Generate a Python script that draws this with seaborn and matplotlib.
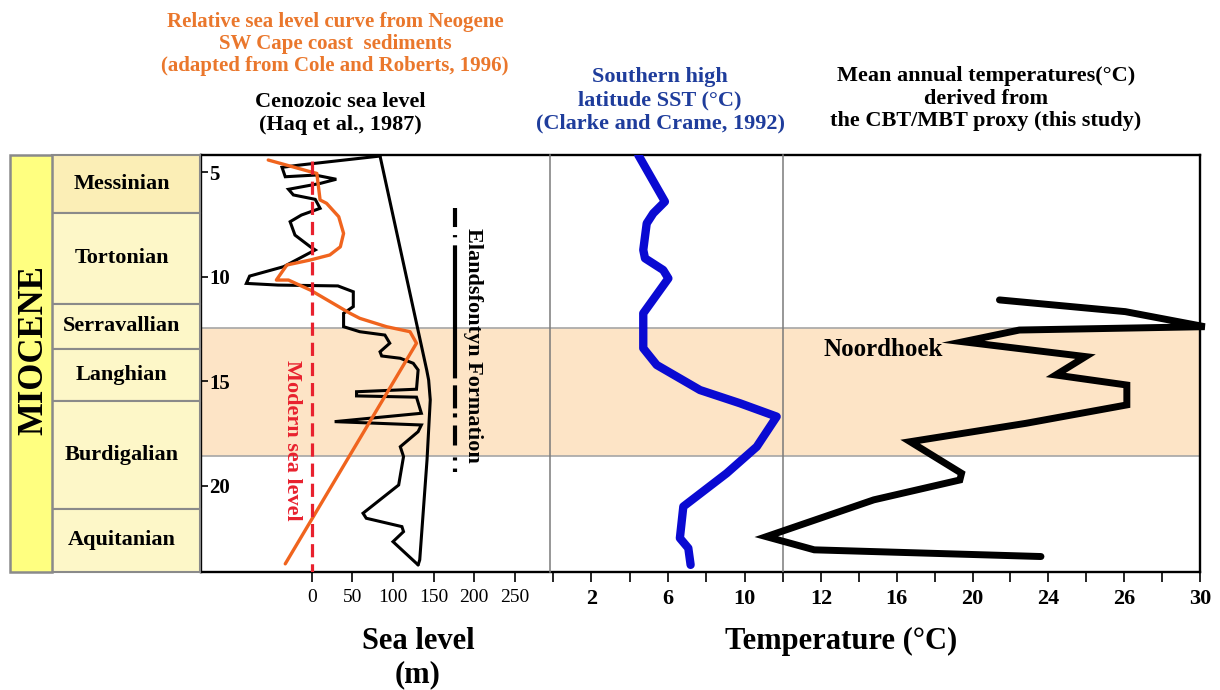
import matplotlib
matplotlib.use("Agg")
import matplotlib.pyplot as plt
import seaborn as sns

# ---------------- data ----------------
STAGES = ["Messinian", "Tortonian", "Serravallian", "Langhian", "Burdigalian", "Aquitanian"]
STAGE_TOP = [4.18, 6.95, 11.30, 13.46, 15.94, 21.10]
STAGE_BASE = [6.95, 11.30, 13.46, 15.94, 21.10, 24.12]
EPOCH = "MIOCENE"
AGE_TOP, AGE_BOTTOM = 4.18, 24.12
AGE_TICKS = [5, 10, 15, 20]
AGE_TICK_LABELS = ["5", "10", "15", "20"]
BAND = (12.44, 18.57)

# Haq et al. 1987 short-term curve (sea level m, age Ma)
HAQ_SL = [84, -15, -37, -33, 4, 30, 10, -29, -23, 4, 10, -13, -27, -21, -2, 4, -35, -77, -81, -42,
          32, 51, 51, 39, 39, 59, 90, 96, 84, 86, 109, 125, 131, 129, 55, 55, 129, 135, 28, 135,
          131, 109, 113, 107, 63, 67, 111, 113, 100, 131]
HAQ_AGE = [4.23, 4.66, 4.77, 5.22, 5.14, 5.34, 5.54, 5.82, 6.09, 6.30, 6.73, 7.05, 7.37, 8.01, 8.57,
           8.72, 9.52, 9.97, 10.32, 10.40, 10.44, 10.72, 11.43, 11.75, 12.39, 12.63, 12.79, 13.18,
           13.59, 13.79, 13.90, 14.14, 14.46, 15.38, 15.50, 15.70, 15.76, 16.53, 16.93, 17.09,
           17.41, 18.13, 18.60, 19.96, 21.31, 21.55, 21.95, 22.19, 22.67, 23.78]
# Haq long-term curve
HAQ_LT_SL = [84, 141.6, 144, 146, 142, 133, 131]
HAQ_LT_AGE = [4.23, 14.46, 14.94, 15.89, 18.76, 23.54, 23.78]

# Cole and Roberts 1996 relative sea level
CR_SL = [-54, -2, 6, 10, 18, 33, 39, 35, 22, -2, -31, -44, -29, -2, 47, 59, 92, 121, 129, -33]
CR_AGE = [4.42, 4.98, 5.06, 6.33, 6.49, 7.13, 7.93, 8.57, 8.96, 9.20, 9.44, 10.16, 10.16, 10.64,
          11.75, 11.99, 12.39, 12.63, 13.18, 23.73]

# Southern high latitude SST (Clarke and Crame 1992)
SST = [4.45, 5.84, 5.23, 4.89, 4.71, 4.80, 5.75, 6.02, 4.71, 4.71, 5.41, 7.67, 9.75, 11.67, 10.63,
       9.06, 6.80, 6.62, 7.06, 7.18]
SST_AGE = [4.18, 6.41, 6.97, 7.45, 8.72, 9.12, 9.68, 10.08, 11.75, 13.42, 14.22, 15.42, 16.05,
           16.69, 18.13, 19.40, 20.99, 22.50, 22.98, 23.78]

# Mean annual temperature, CBT/MBT (this study)
MAT = [21.42, 28.06, 32.25, 22.47, 19.50, 25.96, 24.39, 28.14, 28.14, 22.82, 16.71, 19.42, 19.33,
       14.79, 9.12, 11.65, 23.61]
MAT_AGE = [11.11, 11.67, 12.39, 12.55, 13.11, 13.82, 14.70, 15.18, 16.13, 17.01, 17.89, 19.40,
           19.72, 20.67, 22.43, 23.06, 23.38]

MODERN_SL = 0
ELAND_SL = 176.5
ELAND_AGE = [6.72, 19.34]

SL_TICKS = [0, 50, 100, 150, 200, 250]
SL_TICK_LABELS = ["0", "50", "100", "150", "200", "250"]
SST_TICKS = [0, 2, 4, 6, 8, 10]
SST_TICK_LABELS = ["", "2", "", "6", "", "10"]
MAT_TICKS = [10, 12, 14, 16, 18, 20, 22, 24, 26, 28, 30, 32]
MAT_TICK_LABELS = ["", "12", "", "16", "", "20", "", "24", "", "26", "", "30"]

# ---------------- style ----------------
sns.set_style("white")
plt.rcParams['font.family'] = ['Liberation Serif', 'DejaVu Serif']
plt.rcParams['font.weight'] = 'bold'
plt.rcParams['lines.scale_dashes'] = False
for key in ('text.color', 'axes.labelcolor', 'xtick.color', 'ytick.color', 'axes.edgecolor'):
    plt.rcParams[key] = 'black'

W, H = 1220, 690
fig = plt.figure(figsize=(12.2, 6.9), dpi=100)
fig.patch.set_facecolor('white')


def rect(x0, x1, y0=155, y1=572):
    return [x0 / W, 1 - y1 / H, (x1 - x0) / W, (y1 - y0) / H]


def fx(px):
    return px / W


def fy(py):
    return 1 - py / H


BAND_C = "#fde4c6"
ORANGE = "#f0641e"
RED = "#e8212e"
BLUE = "#0a0ad2"
TITLE_BLUE = "#1f3d9c"
TITLE_ORANGE = "#ea772c"

# background / frame axes
ax_bg = fig.add_axes(rect(201, 1200))
ax_bg.set_xlim(0, 1)
ax_bg.set_ylim(AGE_BOTTOM, AGE_TOP)
ax_bg.set_facecolor('white')
ax_bg.axhspan(BAND[0], BAND[1], color=BAND_C, zorder=0, lw=0)
for b in BAND:
    ax_bg.axhline(b, color="#a6a6a6", lw=1.2, zorder=1)
for s in ax_bg.spines.values():
    s.set_visible(True)
    s.set_color('black')
    s.set_linewidth(1.7)
ax_bg.set_xticks([])
ax_bg.set_yticks(AGE_TICKS)
ax_bg.set_yticklabels(AGE_TICK_LABELS, fontsize=15, fontweight='bold')
ax_bg.tick_params(axis='y', direction='in', length=5, width=1.2, pad=-6, left=True,
                  colors='black')
for lab in ax_bg.get_yticklabels():
    lab.set_horizontalalignment('left')


def overlay(x0, x1, xlim):
    a = fig.add_axes(rect(x0, x1))
    a.set_facecolor('none')
    a.set_xlim(*xlim)
    a.set_ylim(AGE_BOTTOM, AGE_TOP)
    for s in a.spines.values():
        s.set_visible(False)
    a.set_yticks([])
    a.tick_params(axis='x', direction='out', length=7, width=1.2, pad=5, bottom=True,
                  colors='black')
    return a


# sea-level panel
ax_sl = overlay(201, 550, (-137, 293.8))
sns.lineplot(x=HAQ_SL, y=HAQ_AGE, sort=False, estimator=None, ax=ax_sl, color='black',
             lw=2.2, legend=False, solid_joinstyle='miter')
sns.lineplot(x=HAQ_LT_SL, y=HAQ_LT_AGE, sort=False, estimator=None, ax=ax_sl, color='black',
             lw=2.2, legend=False)
sns.lineplot(x=CR_SL, y=CR_AGE, sort=False, estimator=None, ax=ax_sl, color=ORANGE,
             lw=2.4, legend=False)
ax_sl.plot([MODERN_SL, MODERN_SL], [AGE_TOP + 0.3, AGE_BOTTOM], color=RED, lw=2.3,
           dashes=(9.5, 5), dash_capstyle='butt')
ax_sl.plot([ELAND_SL, ELAND_SL], ELAND_AGE, color='black', lw=3.0, dash_capstyle='butt',
           dashes=(13.7, 5.8, 1.6, 5.8, 95.8, 5, 16.6, 3.6, 2.9, 5.8, 14.4, 8.6, 2.2, 5.8, 2.9, 50))
ax_sl.text(-24.7, 17.8, "Modern sea level", rotation=-90, color=RED, fontsize=16,
           ha='center', va='center')
ax_sl.text(199, 13.26, "Elandsfontyn Formation", rotation=-90, color='black', fontsize=16,
           ha='center', va='center')
ax_sl.set_xticks(SL_TICKS)
ax_sl.set_xticklabels(SL_TICK_LABELS, fontsize=14, fontweight='normal')
ax_sl.set_xlabel("")
ax_sl.set_ylabel("")

# SST panel
ax_sst = overlay(550, 783, (-0.156, 12.0))
for side in ('left', 'right'):
    ax_sst.spines[side].set_visible(True)
    ax_sst.spines[side].set_color('#7a7a7a')
    ax_sst.spines[side].set_linewidth(1.1)
sns.lineplot(x=SST, y=SST_AGE, sort=False, estimator=None, ax=ax_sst, color=BLUE, lw=6.0,
             legend=False)
ax_sst.set_xticks(SST_TICKS)
ax_sst.set_xticklabels(SST_TICK_LABELS, fontsize=16, fontweight='bold')
ax_sst.set_xlabel("")
ax_sst.set_ylabel("")

# MAT panel
ax_mat = overlay(783, 1200, (10.05, 31.9))
sns.lineplot(x=MAT, y=MAT_AGE, sort=False, estimator=None, ax=ax_mat, color='black', lw=5.0,
             legend=False, solid_joinstyle='miter', clip_on=False)
ax_mat.text(12.15, 13.5, "Noordhoek", fontsize=18, ha='left', va='center')
ax_mat.set_xticks(MAT_TICKS)
ax_mat.set_xticklabels(MAT_TICK_LABELS, fontsize=16, fontweight='bold')
ax_mat.set_xlabel("")
ax_mat.set_ylabel("")

# stage column
ax_st = fig.add_axes(rect(52, 200))
ax_st.set_xlim(0, 1)
ax_st.set_ylim(AGE_BOTTOM, AGE_TOP)
mids = [(t + b) / 2 for t, b in zip(STAGE_TOP, STAGE_BASE)]
durs = [b - t for t, b in zip(STAGE_TOP, STAGE_BASE)]
cols = ["#fbeeb6"] + ["#fdf7c8"] * (len(STAGES) - 1)
ax_st.barh(mids, [1] * len(STAGES), height=durs, left=0, color=cols, edgecolor='#8a8a8a',
           linewidth=1.5, clip_on=False)
for name, m in zip(STAGES, mids):
    ax_st.text(0.47, m, name, ha='center', va='center', fontsize=16, color='black')
ax_st.axis('off')

ax_ep = fig.add_axes(rect(10, 52))
ax_ep.set_xlim(0, 1)
ax_ep.set_ylim(AGE_BOTTOM, AGE_TOP)
ax_ep.barh([(AGE_TOP + AGE_BOTTOM) / 2], [1], height=AGE_BOTTOM - AGE_TOP, left=0,
           color="#ffff80", edgecolor='#8a8a8a', linewidth=1.8, clip_on=False)
ax_ep.text(0.58, 12.5 + (350 - 329) / 20.92, EPOCH, rotation=90, ha='center', va='center',
           fontsize=25, color='black')
ax_ep.axis('off')

# titles
fig.text(fx(335), fy(44), "Relative sea level curve from Neogene\nSW Cape coast  sediments\n"
         "(adapted from Cole and Roberts, 1996)", color=TITLE_ORANGE, fontsize=15,
         ha='center', va='center', linespacing=1.15)
fig.text(fx(340), fy(113.5), "Cenozoic sea level\n(Haq et al., 1987)", color='black',
         fontsize=16, ha='center', va='center', linespacing=1.2)
fig.text(fx(660), fy(100), "Southern high\nlatitude SST (°C)\n(Clarke and Crame, 1992)",
         color=TITLE_BLUE, fontsize=16, ha='center', va='center', linespacing=1.2)
fig.text(fx(986), fy(98.5), "Mean annual temperatures(°C)\nderived from\n"
         "the CBT/MBT proxy (this study)", color='black', fontsize=16, ha='center',
         va='center', linespacing=1.15)

# axis titles
fig.text(fx(418), fy(658), "Sea level\n(m)", fontsize=22, ha='center', va='center',
         linespacing=1.2, color='black')
fig.text(fx(841), fy(641), "Temperature (°C)", fontsize=22, ha='center', va='center',
         color='black')

fig.savefig("out.png", dpi=100, facecolor='white')
